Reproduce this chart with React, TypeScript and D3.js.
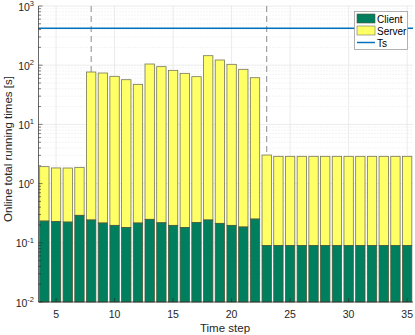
import React from 'react';
import * as d3 from 'd3';

// time steps 4..35
const steps = d3.range(4, 36);
const client = [
  0.233, 0.228, 0.224, 0.291, 0.243, 0.216, 0.197, 0.182, 0.216, 0.249,
  0.218, 0.197, 0.182, 0.22, 0.243, 0.213, 0.197, 0.185, 0.252, 0.09,
  0.09, 0.09, 0.09, 0.09, 0.09, 0.09, 0.09, 0.09, 0.09, 0.09, 0.09, 0.09,
];
const server = [
  1.7, 1.61, 1.61, 1.59, 76.5, 73.6, 64.7, 56.7, 47.3, 104.5,
  94.2, 81.7, 72.7, 63.8, 144.5, 122.2, 103.3, 85.0, 61.2, 2.95,
  2.8, 2.8, 2.8, 2.8, 2.8, 2.8, 2.8, 2.8, 2.8, 2.8, 2.8, 2.8,
];
const ts = 420;
const switchSteps = [8, 23];
const xTicks = [5, 10, 15, 20, 25, 30, 35];
const yExps = [-2, -1, 0, 1, 2, 3];

const W = 415;
const H = 335;
const font = 'Liberation Sans, Arial, Helvetica, sans-serif';

export default function App() {
  const x = d3.scaleLinear().domain([3.5, 35.5]).range([38.5, 413]);
  const y = d3.scaleLog().domain([1e-2, 1e3]).range([302, 6]);
  const bw = (x(1) - x(0)) * 0.8;

  const minor: number[] = [];
  yExps.slice(0, -1).forEach((e) => {
    for (let k = 2; k <= 9; k++) minor.push(k * Math.pow(10, e));
  });

  const rows = steps.map((s, i) => ({ s, c: client[i], t: client[i] + server[i] }));

  return (
    <svg width={W} height={H} style={{ position: 'absolute', left: 0, top: 0, background: '#fff' }}>
      {/* grid */}
      {minor.map((v) => (
        <line key={'m' + v} x1={x(3.5)} x2={x(35.5)} y1={y(v)} y2={y(v)}
          stroke="#e3e3e3" strokeDasharray="1,2" strokeWidth={0.8} />
      ))}
      {yExps.map((e) => (
        <line key={'g' + e} x1={x(3.5)} x2={x(35.5)} y1={y(Math.pow(10, e))} y2={y(Math.pow(10, e))}
          stroke="#e6e6e6" strokeWidth={0.8} />
      ))}
      {xTicks.map((t) => (
        <line key={'gx' + t} x1={x(t)} x2={x(t)} y1={y(1e-2)} y2={y(1e3)} stroke="#e6e6e6" strokeWidth={0.8} />
      ))}

      {/* regime switches */}
      {switchSteps.map((s) => (
        <line key={'d' + s} x1={x(s)} x2={x(s)} y1={y(1e3)} y2={y(1e-2)}
          stroke="#8c8c8c" strokeWidth={1} strokeDasharray="6,4" />
      ))}

      {/* stacked bars */}
      {rows.map((r) => (
        <g key={r.s}>
          <rect x={x(r.s) - bw / 2} width={bw} y={y(r.t)} height={y(r.c) - y(r.t)}
            fill="#ffff66" stroke="#76765a" strokeWidth={0.8} />
          <rect x={x(r.s) - bw / 2} width={bw} y={y(r.c)} height={y(1e-2) - y(r.c)}
            fill="#007f5f" stroke="#4d5a3a" strokeWidth={0.8} />
        </g>
      ))}

      {/* Ts */}
      <line x1={x(3.5)} x2={x(35.5)} y1={y(ts)} y2={y(ts)} stroke="#0072bd" strokeWidth={1.5} />

      {/* axes */}
      <line x1={x(3.5)} x2={x(3.5)} y1={y(1e-2)} y2={y(1e3)} stroke="#262626" strokeWidth={0.7} />
      <line x1={x(3.5)} x2={x(35.5)} y1={y(1e-2)} y2={y(1e-2)} stroke="#262626" strokeWidth={0.7} />
      {minor.concat(yExps.map((e) => Math.pow(10, e))).map((v) => (
        <line key={'t' + v} x1={x(3.5)} x2={x(3.5) + (Number.isInteger(Math.log10(v)) ? 4 : 2.5)}
          y1={y(v)} y2={y(v)} stroke="#262626" strokeWidth={0.6} />
      ))}
      {xTicks.map((t) => (
        <line key={'tx' + t} x1={x(t)} x2={x(t)} y1={y(1e-2)} y2={y(1e-2) - 4} stroke="#262626" strokeWidth={0.6} />
      ))}

      {/* tick labels */}
      {yExps.map((e) => (
        <text key={'yl' + e} x={34} y={y(Math.pow(10, e)) + 4.5} textAnchor="end"
          fontFamily={font} fontSize={10.5} fill="#262626">
          10<tspan dy={-4.5} fontSize={7.5}>{e}</tspan>
        </text>
      ))}
      {xTicks.map((t) => (
        <text key={'xl' + t} x={x(t)} y={318} textAnchor="middle" fontFamily={font} fontSize={10.5} fill="#262626">
          {t}
        </text>
      ))}

      <text x={225} y={331.5} textAnchor="middle" fontFamily={font} fontSize={11.5} fill="#262626">Time step</text>
      <text transform="translate(12,149) rotate(-90)" textAnchor="middle" fontFamily={font} fontSize={11.5} fill="#262626">
        Online total running times [s]
      </text>

      {/* legend */}
      <g fontFamily={font} fontSize={10} fill="#000">
        <rect x={354.5} y={11.5} width={53} height={38} fill="#fff" stroke="#a0a0a0" strokeWidth={0.8} />
        <rect x={357} y={14} width={18} height={9} fill="#007f5f" stroke="#4d5a3a" strokeWidth={0.6} />
        <text x={377} y={22.5}>Client</text>
        <rect x={357} y={26} width={18} height={9} fill="#ffff66" stroke="#76765a" strokeWidth={0.6} />
        <text x={377} y={34.5}>Server</text>
        <line x1={357} x2={375} y1={42.5} y2={42.5} stroke="#0072bd" strokeWidth={1.5} />
        <text x={377} y={46.5}>Ts</text>
      </g>
    </svg>
  );
}
